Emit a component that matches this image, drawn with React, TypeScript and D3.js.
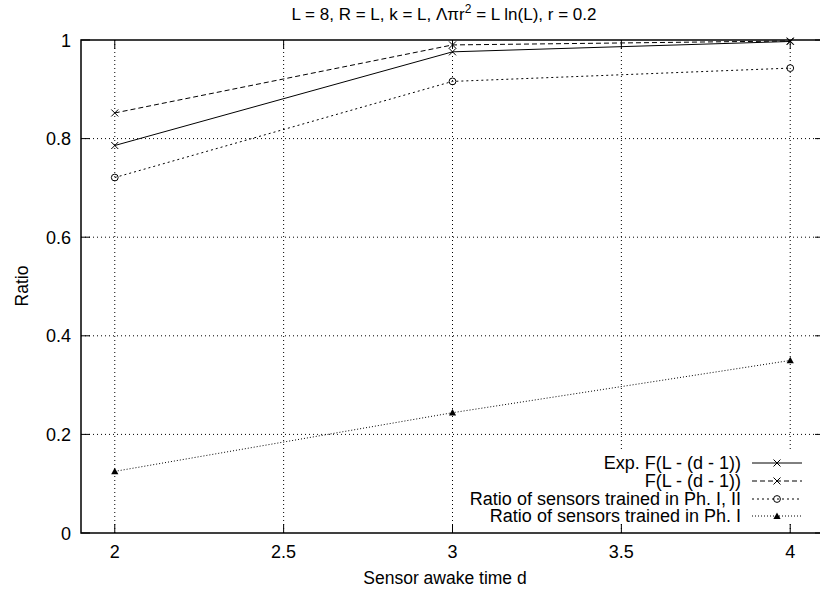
import React from "react";
import * as d3 from "d3";

const awakeTimes = [2, 3, 4];
const expF = [0.786, 0.976, 0.997];
const fTheory = [0.852, 0.99, 0.998];
const ratioPh12 = [0.721, 0.916, 0.943];
const ratioPh1 = [0.125, 0.244, 0.35];

const xTicks = [2, 2.5, 3, 3.5, 4];
const yTicks = [0, 0.2, 0.4, 0.6, 0.8, 1];
const xTickLabels = ["2", "2.5", "3", "3.5", "4"];
const yTickLabels = ["0", "0.2", "0.4", "0.6", "0.8", "1"];

const seriesNames = [
  "Exp. F(L - (d - 1))",
  "F(L - (d - 1))",
  "Ratio of sensors trained in Ph. I, II",
  "Ratio of sensors trained in Ph. I",
];

const W = 820;
const H = 593;
const left = 81, right = 824, top = 40, bottom = 533;
const FONT = "'Liberation Sans', Arial, sans-serif";

export default function App() {
  const x = d3.scaleLinear().domain([1.9, 4.1]).range([left, right]);
  const y = d3.scaleLinear().domain([0, 1]).range([bottom, top]);
  const line = d3
    .line<[number, number]>()
    .x((d) => x(d[0]))
    .y((d) => y(d[1]));

  const series = [
    { vals: expF, dash: undefined as string | undefined, marker: "cross" },
    { vals: fTheory, dash: "5,3", marker: "cross" },
    { vals: ratioPh12, dash: "2,3", marker: "circle" },
    { vals: ratioPh1, dash: "1,2", marker: "tri" },
  ];

  const marker = (kind: string, cx: number, cy: number, key: string) => {
    if (kind === "cross") {
      const s = 3.5;
      return (
        <path
          key={key}
          d={`M${cx - s},${cy - s}L${cx + s},${cy + s}M${cx - s},${cy + s}L${cx + s},${cy - s}`}
          stroke="#000"
          strokeWidth={1}
          fill="none"
        />
      );
    }
    if (kind === "circle") {
      return <circle key={key} cx={cx} cy={cy} r={3.4} fill="none" stroke="#000" strokeWidth={1} />;
    }
    const s = 3.6;
    return (
      <path
        key={key}
        d={`M${cx},${cy - s}L${cx + s},${cy + s * 0.8}L${cx - s},${cy + s * 0.8}Z`}
        fill="#000"
      />
    );
  };

  const legendRows = [463, 481, 499, 516];
  const textRight = 741;
  const lx0 = 752, lx1 = 802, lm = 777;

  return (
    <svg width={W} height={H} style={{ position: "absolute", left: 0, top: 0 }} fontFamily={FONT}>
      <rect width={W} height={H} fill="#fff" />
      {/* grid */}
      <g stroke="#000" strokeWidth={1} strokeDasharray="1,3">
        {xTicks.map((t) => (
          <line key={"gx" + t} x1={x(t)} x2={x(t)} y1={top} y2={bottom} />
        ))}
        {yTicks.slice(1, -1).map((t) => (
          <line key={"gy" + t} x1={left} x2={right} y1={y(t)} y2={y(t)} />
        ))}
      </g>
      {/* key background */}
      <rect x={462} y={450} width={360} height={74} fill="#fff" />
      {/* series */}
      {series.map((s, i) => (
        <g key={"s" + i}>
          <path
            d={line(awakeTimes.map((a, j) => [a, s.vals[j]] as [number, number])) || ""}
            fill="none"
            stroke="#000"
            strokeWidth={1}
            strokeDasharray={s.dash}
          />
          {awakeTimes.map((a, j) => marker(s.marker, x(a), y(s.vals[j]), `m${i}-${j}`))}
        </g>
      ))}
      {/* border */}
      <rect x={left} y={top} width={right - left} height={bottom - top} fill="none" stroke="#000" strokeWidth={1.5} />
      {/* ticks */}
      <g stroke="#000" strokeWidth={1}>
        {xTicks.map((t) => (
          <g key={"tx" + t}>
            <line x1={x(t)} x2={x(t)} y1={bottom} y2={bottom - 9} />
            <line x1={x(t)} x2={x(t)} y1={top} y2={top + 9} />
          </g>
        ))}
        {yTicks.map((t) => (
          <g key={"ty" + t}>
            <line x1={left} x2={left + 9} y1={y(t)} y2={y(t)} />
            <line x1={right} x2={right - 9} y1={y(t)} y2={y(t)} />
          </g>
        ))}
      </g>
      {/* tick labels */}
      <g fontSize={18} fill="#000">
        {xTicks.map((t, i) => (
          <text key={"lx" + t} x={x(t)} y={558} textAnchor="middle">
            {xTickLabels[i]}
          </text>
        ))}
        {yTicks.map((t, i) => (
          <text key={"ly" + t} x={71} y={y(t) + 6.5} textAnchor="end">
            {yTickLabels[i]}
          </text>
        ))}
      </g>
      {/* axis titles */}
      <text x={445} y={584} textAnchor="middle" fontSize={17.5}>
        Sensor awake time d
      </text>
      <text transform="translate(28,286) rotate(-90)" textAnchor="middle" fontSize={17.5}>
        Ratio
      </text>
      {/* title */}
      <text x={444} y={20} textAnchor="middle" fontSize={17}>
        L = 8, R = L, k = L, Λπr
        <tspan dy={-7} fontSize={12}>2</tspan>
        <tspan dy={7}> = L ln(L), r = 0.2</tspan>
      </text>
      {/* legend */}
      {series.map((s, i) => (
        <g key={"lg" + i}>
          <text x={textRight} y={legendRows[i] + 6} textAnchor="end" fontSize={18}>
            {seriesNames[i]}
          </text>
          <line x1={lx0} x2={lx1} y1={legendRows[i]} y2={legendRows[i]} stroke="#000" strokeWidth={1} strokeDasharray={s.dash} />
          {marker(s.marker, lm, legendRows[i], "lm" + i)}
        </g>
      ))}
    </svg>
  );
}
